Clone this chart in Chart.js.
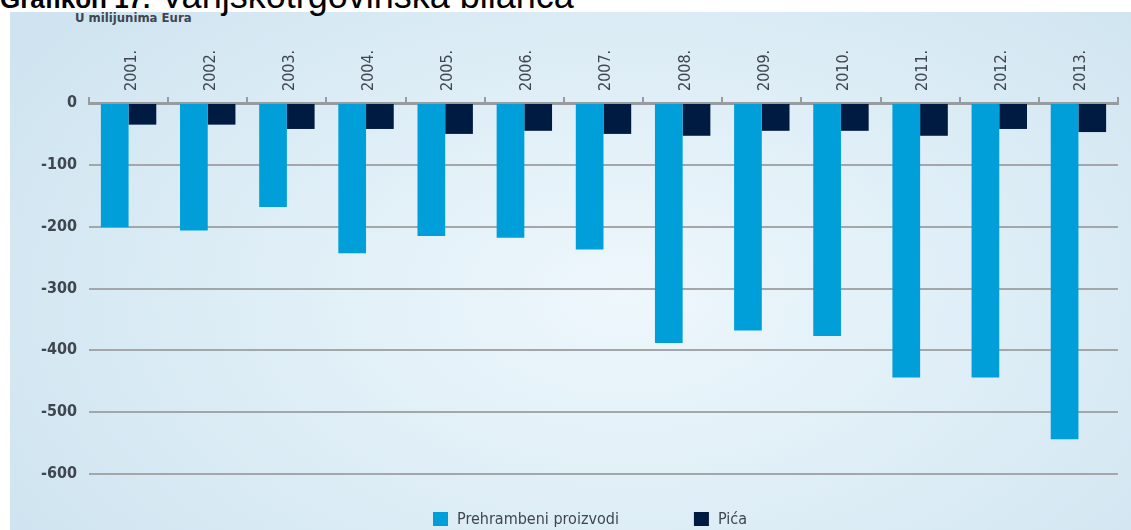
<!DOCTYPE html>
<html><head><meta charset="utf-8">
<script src="https://cdn.jsdelivr.net/npm/chart.js@4/dist/chart.umd.min.js"></script>
<style>
html,body{margin:0;padding:0;background:#fff;width:1131px;height:530px;overflow:hidden;position:relative;}
#panel{position:absolute;left:10px;top:12px;width:1121px;height:518px;
  background:radial-gradient(ellipse 65% 85% at 55% 55%, #eef7fc 0%, #e0eff7 45%, #cfe4f0 100%);}
#title{position:absolute;left:0;top:-22px;font-family:"Liberation Sans",Arial,sans-serif;font-size:36px;line-height:36px;color:#000;white-space:nowrap;}
#title b{font-size:26px;}
#unit{position:absolute;left:75px;top:10px;font-family:"DejaVu Sans Condensed";font-weight:bold;font-size:13px;color:#3f4650;white-space:nowrap;}
canvas{position:absolute;left:0;top:0;}
</style></head><body>
<div id="panel"></div>
<div id="title"><b>Grafikon 17.</b> Vanjskotrgovinska bilanca</div>
<div id="unit">U milijunima Eura</div>
<canvas id="c" width="1131" height="530"></canvas>
<script>
const years = ['2001.','2002.','2003.','2004.','2005.','2006.','2007.','2008.','2009.','2010.','2011.','2012.','2013.'];
const foodValues = [-201, -206, -168, -243, -215, -218, -237, -388, -368, -377, -444, -444, -544];
const drinkValues = [-35, -35, -42, -42, -50, -45, -50, -53, -45, -45, -53, -42, -47];
const yTickValues = [0, -100, -200, -300, -400, -500, -600];
const seriesNames = ['Prehrambeni proizvodi', 'Pića'];
const seriesColors = ['#009fda', '#001b41'];

const textColor = '#3f4650';
const gridColor = '#a3a7aa';

const legendPlugin = {
  id: 'customLegend',
  afterDraw(chart) {
    const ctx = chart.ctx;
    ctx.save();
    ctx.font = '16px "DejaVu Sans Condensed"';
    ctx.textBaseline = 'middle';
    ctx.textAlign = 'left';
    let x = 433; const y = 519;
    chart.data.datasets.forEach((ds) => {
      ctx.fillStyle = ds.backgroundColor;
      ctx.fillRect(x, y - 7, 15, 14);
      ctx.fillStyle = textColor;
      ctx.fillText(ds.label, x + 24, y + 1);
      x += 24 + ctx.measureText(ds.label).width + 75;
    });
    ctx.restore();
  }
};

new Chart(document.getElementById('c'), {
  type: 'bar',
  data: {
    labels: years,
    datasets: [
      { label: seriesNames[0], data: foodValues, backgroundColor: seriesColors[0], borderWidth: 0 },
      { label: seriesNames[1], data: drinkValues, backgroundColor: seriesColors[1], borderWidth: 0 }
    ]
  },
  options: {
    responsive: false,
    animation: false,
    categoryPercentage: 0.7,
    barPercentage: 1.0,
    layout: { padding: { left: 0, right: 13, top: 0, bottom: 56 } },
    plugins: { legend: { display: false }, tooltip: { enabled: false } },
    scales: {
      x: {
        position: 'top',
        offset: true,
        z: 1,
        afterFit(scale) { scale.height = 103; },
        grid: { offset: true, drawOnChartArea: false, drawTicks: true, tickLength: 6, color: '#999c9f', lineWidth: 2 },
        border: { display: true, color: '#999c9f', width: 3 },
        ticks: {
          minRotation: 90, maxRotation: 90, padding: 6, labelOffset: 22,
          color: textColor,
          font: { family: 'DejaVu Sans Condensed', size: 16 }
        }
      },
      y: {
        min: -600, max: 0,
        afterFit(scale) { scale.width = 89; },
        afterBuildTicks(scale) { scale.ticks = yTickValues.map(v => ({ value: v })); },
        grid: { color: gridColor, lineWidth: 2, drawTicks: false },
        border: { display: false },
        ticks: {
          padding: 12,
          color: textColor,
          font: { family: 'DejaVu Sans Condensed', size: 16, weight: 'bold' }
        }
      }
    }
  },
  plugins: [legendPlugin]
});
</script>
</body></html>
